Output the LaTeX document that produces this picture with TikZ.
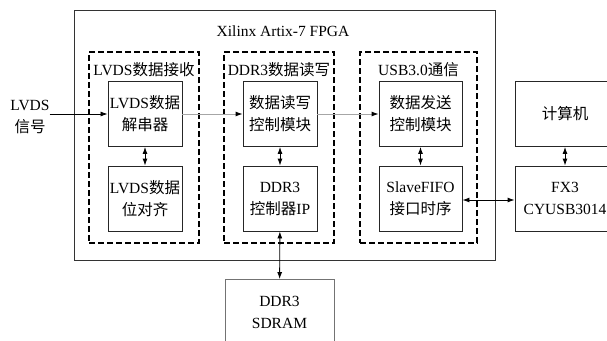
\documentclass[tikz,border=0pt]{standalone}
\usepackage{fontspec}
\setmainfont{Liberation Serif}
\newfontfamily\cjk{Noto Sans CJK SC}
\usetikzlibrary{arrows.meta,positioning}
\newcommand{\zh}[1]{{\cjk #1}}
\tikzset{
  modbox/.style={rectangle, draw=black!85, line width=0.9pt, align=center,
                 inner sep=0pt, minimum width=74pt, minimum height=65pt,
                 font=\fontsize{15.5}{22}\selectfont},
  widebox/.style={modbox, minimum width=83pt},
  extbox/.style={modbox, minimum width=100pt},
  grpbox/.style={rectangle, draw=black, line width=1.6pt, dash pattern=on 6pt off 3pt,
                 minimum width=110pt, minimum height=191pt, inner sep=0pt},
  grplbl/.style={font=\fontsize{15.5}{18}\selectfont, inner sep=0pt},
  flowarr/.style={-{Latex[length=7pt,width=5pt,color=black]}, line width=0.9pt, draw=black!35},
  inarr/.style={-{Latex[length=7pt,width=5pt]}, line width=0.8pt},
  biarr/.style={{Latex[length=7pt,width=5pt]}-{Latex[length=7pt,width=5pt]}, line width=0.9pt},
}
\begin{document}
\begin{tikzpicture}[x=1pt,y=-1pt]
    \useasboundingbox (0,0) rectangle (607,340);
    % FPGA frame
    \node[rectangle, draw=black!80, line width=1pt, minimum width=421pt,
          minimum height=250pt, inner sep=0pt] (fpga) at (284.5,135) {};
    \node[grplbl] (title) at (283,31) {Xilinx Artix-7 FPGA};
    % three function groups
    \node[grpbox] (grx)  at (144,147.5) {};
    \node[grpbox] (gddr) at (279,147.5) {};
    \node[grpbox, minimum width=117pt] (gusb) at (418.5,147.5) {};
    \node[grplbl] at (144,70)   {LVDS\zh{数据接收}};
    \node[grplbl] at (279,70)   {DDR3\zh{数据读写}};
    \node[grplbl] at (418.5,70) {USB3.0\zh{通信}};
    % modules
    \node[modbox]  (deser)  at (145,114)    {LVDS\zh{数据}\\\zh{解串器}};
    \node[modbox]  (align)  at (145,198.5)  {LVDS\zh{数据}\\\zh{位对齐}};
    \node[modbox]  (rwctl)  at (280,114)    {\zh{数据读写}\\\zh{控制模块}};
    \node[modbox]  (ddrip)  at (280,198.5)  {DDR3\\\zh{控制器}IP};
    \node[widebox] (txctl)  at (420.5,114)  {\zh{数据发送}\\\zh{控制模块}};
    \node[widebox] (fifo)   at (420.5,198.5){SlaveFIFO\\\zh{接口时序}};
    % outside the FPGA
    \node[extbox]  (pc)     at (565,114)    {\zh{计算机}};
    \node[extbox]  (fx3)    at (565,198.5)  {FX3\\CYUSB3014};
    \node[modbox, draw=black!55, minimum width=109pt] (sdram) at (279.5,312) {DDR3\\SDRAM};
    \node[font=\fontsize{15.5}{22}\selectfont, align=center, inner sep=0pt] (lvds) at (30,117)
         {LVDS\\\zh{信号}};
    % connections
    \draw[inarr]   (lvds.east |- deser) -- (deser.west);
    \draw[flowarr] (deser) -- (rwctl);
    \draw[flowarr] (rwctl) -- (txctl);
    \draw[biarr]   (deser) -- (align);
    \draw[biarr]   (rwctl) -- (ddrip);
    \draw[biarr]   (txctl) -- (fifo);
    \draw[biarr]   (ddrip) -- (sdram);
    \draw[biarr]   (pc) -- (fx3);
    \draw[biarr]   (fifo.east |- 0,200) -- (fx3.west |- 0,200);
\end{tikzpicture}
\end{document}
